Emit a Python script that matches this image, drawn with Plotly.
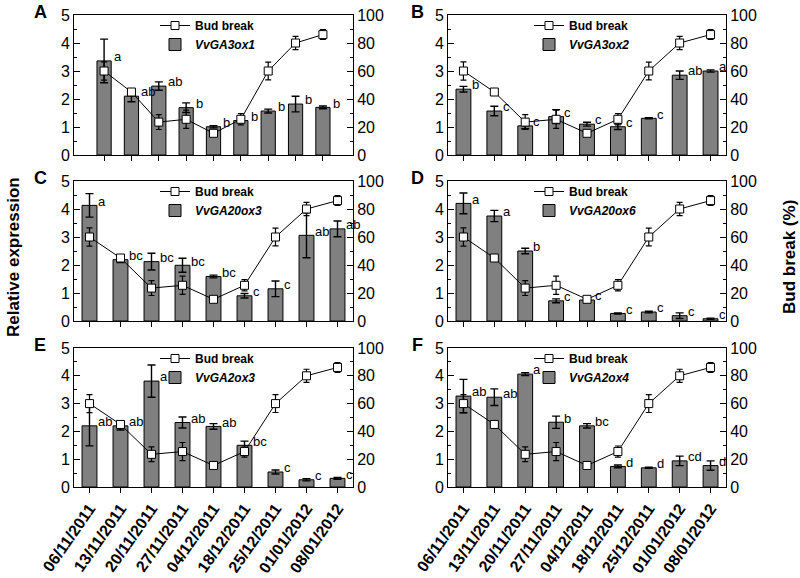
import plotly.graph_objects as go

# ---------------- data ----------------
dates = ["06/11/2011", "13/11/2011", "20/11/2011", "27/11/2011", "04/12/2011",
         "18/12/2011", "25/12/2011", "01/01/2012", "08/01/2012"]

bud_break = [60, 45, 23.5, 25.5, 15.5, 25.5, 60, 80, 86]
bud_break_err = [6.5, 1, 5.3, 6.5, 2, 4, 6.4, 4.7, 3.5]

panel_labels = ["A", "B", "C", "D", "E", "F"]
genes = ["VvGA3ox1", "VvGA3ox2", "VvGA20ox3", "VvGA20ox6", "VvGA2ox3", "VvGA2ox4"]

expr_ga3ox1 = [3.36, 2.10, 2.46, 1.69, 1.01, 1.23, 1.57, 1.82, 1.70]
err_ga3ox1 = [0.78, 0.20, 0.15, 0.17, 0.04, 0.06, 0.07, 0.28, 0.05]
let_ga3ox1 = ["a", "ab", "ab", "b", "b", "b", "b", "b", "b"]

expr_ga3ox2 = [2.35, 1.57, 1.04, 1.37, 1.10, 1.01, 1.31, 2.85, 3.00]
err_ga3ox2 = [0.10, 0.17, 0.10, 0.25, 0.07, 0.10, 0.02, 0.15, 0.04]
let_ga3ox2 = ["b", "c", "c", "c", "c", "c", "c", "ab", "a"]

expr_ga20ox3 = [4.13, 2.19, 2.12, 1.99, 1.59, 0.90, 1.15, 3.06, 3.29]
err_ga20ox3 = [0.42, 0.10, 0.30, 0.25, 0.05, 0.08, 0.28, 0.80, 0.28]
let_ga20ox3 = ["a", "bc", "bc", "bc", "bc", "c", "c", "ab", "ab"]

expr_ga20ox6 = [4.20, 3.75, 2.50, 0.72, 0.75, 0.27, 0.32, 0.19, 0.08]
err_ga20ox6 = [0.37, 0.20, 0.10, 0.07, 0.04, 0.02, 0.03, 0.10, 0.02]
let_ga20ox6 = ["a", "a", "b", "c", "c", "c", "c", "c", "c"]

expr_ga2ox3 = [2.20, 2.20, 3.81, 2.32, 2.18, 1.50, 0.54, 0.26, 0.31]
err_ga2ox3 = [0.72, 0.15, 0.58, 0.20, 0.10, 0.15, 0.07, 0.04, 0.03]
let_ga2ox3 = ["ab", "ab", "a", "ab", "ab", "bc", "c", "c", "c"]

expr_ga2ox4 = [3.27, 3.23, 4.06, 2.33, 2.20, 0.74, 0.69, 0.94, 0.77]
err_ga2ox4 = [0.60, 0.30, 0.05, 0.22, 0.08, 0.05, 0.02, 0.17, 0.17]
let_ga2ox4 = ["ab", "ab", "a", "b", "bc", "d", "d", "cd", "d"]

expr_all = [expr_ga3ox1, expr_ga3ox2, expr_ga20ox3, expr_ga20ox6, expr_ga2ox3, expr_ga2ox4]
err_all = [err_ga3ox1, err_ga3ox2, err_ga20ox3, err_ga20ox6, err_ga2ox3, err_ga2ox4]
let_all = [let_ga3ox1, let_ga3ox2, let_ga20ox3, let_ga20ox6, let_ga2ox3, let_ga2ox4]

# ---------------- layout helpers ----------------
W, H = 800, 578
FONT = "Arial, Liberation Sans, sans-serif"


def fx(p):
    return p / W


def fy(p):
    return 1 - p / H


cols = [(74, 353), (448, 726)]
rows = [(15, 155), (181, 321), (348, 487)]
# panel A has wider side padding than the others in the reference
x_pad = [1.1, 0.5, 0.5, 0.5, 0.5, 0.5]
bar_w = [0.52, 0.48, 0.48, 0.48, 0.48, 0.48]
letter_dx = [0.28, 0.2, 0.2, 0.2, 0.2, 0.2]

idx = list(range(len(dates)))

fig = go.Figure()
layout = dict(
    width=W, height=H,
    margin=dict(l=0, r=0, t=0, b=0, autoexpand=False),
    paper_bgcolor="white", plot_bgcolor="white",
    font=dict(family=FONT, color="black"),
    showlegend=True,
    annotations=[],
)

for p in range(6):
    r, c = p // 2, p % 2
    k = p + 1
    xa = "x" if k == 1 else f"x{k}"
    ya = "y" if 2 * k - 1 == 1 else f"y{2 * k - 1}"
    yb = f"y{2 * k}"
    leg = "legend" if k == 1 else f"legend{k}"

    fig.add_trace(go.Bar(
        x=idx, y=expr_all[p], width=bar_w[p],
        marker=dict(color="#808080", line=dict(color="black", width=1)),
        error_y=dict(type="data", array=err_all[p], color="black", thickness=1.4, width=4),
        name=f"<b><i>{genes[p]}</i></b>",
        xaxis=xa, yaxis=ya, legend=leg, legendrank=2,
    ))
    fig.add_trace(go.Scatter(
        x=idx, y=bud_break, mode="lines+markers",
        line=dict(color="black", width=1),
        marker=dict(symbol="square", size=8, color="white", line=dict(color="black", width=1)),
        error_y=dict(type="data", array=bud_break_err, color="black", thickness=1.2, width=3),
        name="<b>Bud break</b>",
        xaxis=xa, yaxis=yb, legend=leg, legendrank=1,
    ))

    x0, x1 = cols[c]
    y0, y1 = rows[r]
    xkey = "xaxis" if k == 1 else f"xaxis{k}"
    ykey = "yaxis" if 2 * k - 1 == 1 else f"yaxis{2 * k - 1}"
    y2key = f"yaxis{2 * k}"

    layout[xkey] = dict(
        domain=[fx(x0), fx(x1)], anchor=ya,
        range=[-x_pad[p], len(dates) - 1 + x_pad[p]], automargin=False,
        tickmode="array", tickvals=idx, ticktext=dates,
        showticklabels=(r == 2), tickangle=-55,
        tickfont=dict(family=FONT, size=16, color="black", weight="bold"),
        ticks="outside", ticklen=5, tickcolor="black",
        showline=True, linecolor="black", linewidth=1, mirror=True,
        showgrid=False, zeroline=False,
    )
    layout[ykey] = dict(
        domain=[fy(y1), fy(y0)], anchor=xa, range=[0, 5], automargin=False,
        tickmode="linear", tick0=0, dtick=1,
        ticks="inside", ticklen=6, tickcolor="black",
        minor=dict(dtick=0.5, ticks="inside", ticklen=3, tickcolor="black"),
        tickfont=dict(family=FONT, size=16, color="black"),
        showline=True, linecolor="black", linewidth=1,
        showgrid=False, zeroline=False, ticklabeloverflow="allow",
    )
    layout[y2key] = dict(
        overlaying=ya, anchor=xa, side="right", range=[0, 100], automargin=False,
        tickmode="linear", tick0=0, dtick=20,
        ticks="inside", ticklen=6, tickcolor="black",
        minor=dict(dtick=10, ticks="inside", ticklen=3, tickcolor="black"),
        tickfont=dict(family=FONT, size=16, color="black"),
        showline=True, linecolor="black", linewidth=1,
        showgrid=False, zeroline=False, ticklabeloverflow="allow",
    )
    layout[leg] = dict(
        x=fx(x0 + 81), y=fy(y0 - 4), xanchor="left", yanchor="top",
        bgcolor="rgba(0,0,0,0)", borderwidth=0,
        font=dict(family=FONT, size=12, color="black"),
        itemwidth=30, tracegroupgap=0,
    )

    # significance letters
    for i in idx:
        layout["annotations"].append(dict(
            x=i + letter_dx[p], y=expr_all[p][i] + 0.15, xref=xa, yref=ya,
            text=let_all[p][i], showarrow=False, xanchor="left", yanchor="middle",
            font=dict(family=FONT, size=13, color="black"),
        ))
    # panel label
    lx = 40 if c == 0 else 417
    layout["annotations"].append(dict(
        x=fx(lx), y=fy(y0 - 3), xref="paper", yref="paper",
        text=f"<b>{panel_labels[p]}</b>", showarrow=False,
        xanchor="center", yanchor="middle",
        font=dict(family=FONT, size=18, color="black"),
    ))

layout["annotations"].append(dict(
    x=fx(13), y=fy(257), xref="paper", yref="paper", text="<b>Relative expression</b>",
    textangle=-90, showarrow=False, xanchor="center", yanchor="middle",
    font=dict(family=FONT, size=17, color="black"),
))
layout["annotations"].append(dict(
    x=fx(789), y=fy(257), xref="paper", yref="paper", text="<b>Bud break (%)</b>",
    textangle=-90, showarrow=False, xanchor="center", yanchor="middle",
    font=dict(family=FONT, size=17, color="black"),
))

fig.update_layout(**layout)
fig.write_html(
    "out.html",
    config={"displayModeBar": False},
    post_script="document.body.style.margin='0px';document.body.style.overflow='hidden';",
)
